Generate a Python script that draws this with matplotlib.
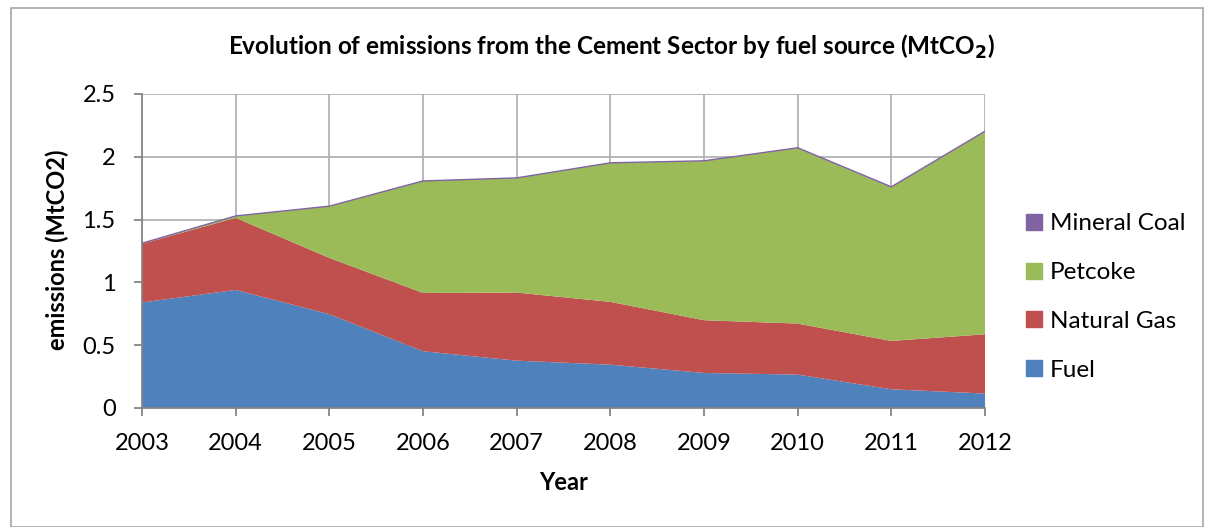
import numpy as np
import matplotlib.pyplot as plt
from matplotlib.patches import Rectangle
from matplotlib.lines import Line2D

plt.rcParams['font.family'] = ['Lato', 'DejaVu Sans']

years = [2003, 2004, 2005, 2006, 2007, 2008, 2009, 2010, 2011, 2012]
fuel = [0.84, 0.94, 0.747, 0.452, 0.377, 0.345, 0.279, 0.266, 0.149, 0.115]
natural_gas = [0.467, 0.574, 0.448, 0.464, 0.542, 0.50, 0.42, 0.406, 0.385, 0.472]
petcoke = [0.003, 0.013, 0.41, 0.89, 0.911, 1.105, 1.267, 1.397, 1.222, 1.612]
mineral_coal = [0.002, 0.002, 0.002, 0.002, 0.002, 0.002, 0.002, 0.003, 0.005, 0.005]

series = ["Fuel", "Natural Gas", "Petcoke", "Mineral Coal"]
colors = ['#4F81BD', '#C0504D', '#9BBB59', '#8064A2']

fig = plt.figure(figsize=(12.11, 5.27), dpi=100)
ax = fig.add_axes([142 / 1211, 1 - 408 / 527, (985 - 142) / 1211, (408 - 94) / 527])

# outer chart border
fig.patches.append(Rectangle((11 / 1211, 0), 1192 / 1211, 1 - 8 / 527,
                             transform=fig.transFigure, fill=False,
                             edgecolor='#A6A6A6', linewidth=1.2))

ax.stackplot(years, fuel, natural_gas, petcoke, mineral_coal,
             colors=colors, linewidth=0, zorder=2)
top = np.sum([fuel, natural_gas, petcoke, mineral_coal], axis=0)
ax.plot(years, top, color=colors[3], linewidth=1, zorder=3)

ax.set_xlim(2003, 2012)
ax.set_ylim(0, 2.5)
ax.set_xticks(years)
ax.set_yticks([0, 0.5, 1, 1.5, 2, 2.5])
ax.set_yticklabels(['0', '0.5', '1', '1.5', '2', '2.5'])
ax.grid(True, color='#B3B3B3', linewidth=1.3, zorder=0)
ax.set_axisbelow(True)
for s in ['top', 'right']:
    ax.spines[s].set_visible(False)
for s in ['left', 'bottom']:
    ax.spines[s].set_color('#868686')
    ax.spines[s].set_linewidth(1.3)
ax.tick_params(axis='both', color='#868686', width=1.3, length=6, labelsize=17)
ax.tick_params(axis='x', pad=12)
ax.tick_params(axis='y', pad=13)

fig.text(0.5 * (142 + 985) / 1211, 1 - 483 / 527, "Year",
         ha='center', va='center', fontsize=17, fontweight='bold')
fig.text(57 / 1211, 1 - 250 / 527, "emissions (MtCO2)", rotation=90,
         ha='center', va='center', fontsize=17, fontweight='bold')
fig.text(611 / 1211, 1 - 47 / 527,
         r"Evolution of emissions from the Cement Sector by fuel source (MtCO$_\mathbf{2}$)",
         ha='center', va='center', fontsize=17.5, fontweight='bold')

handles = [Line2D([], [], marker='s', linestyle='', markersize=11,
                  markerfacecolor=c, markeredgecolor=c) for c in colors]
leg = fig.legend(handles[::-1], series[::-1], loc='center left',
                 bbox_to_anchor=(1010 / 1211, 1 - 297 / 527), frameon=False,
                 fontsize=17.5, labelspacing=1.15, handletextpad=0.05,
                 handlelength=1.2, borderaxespad=0)

fig.savefig("out.png", dpi=100)
